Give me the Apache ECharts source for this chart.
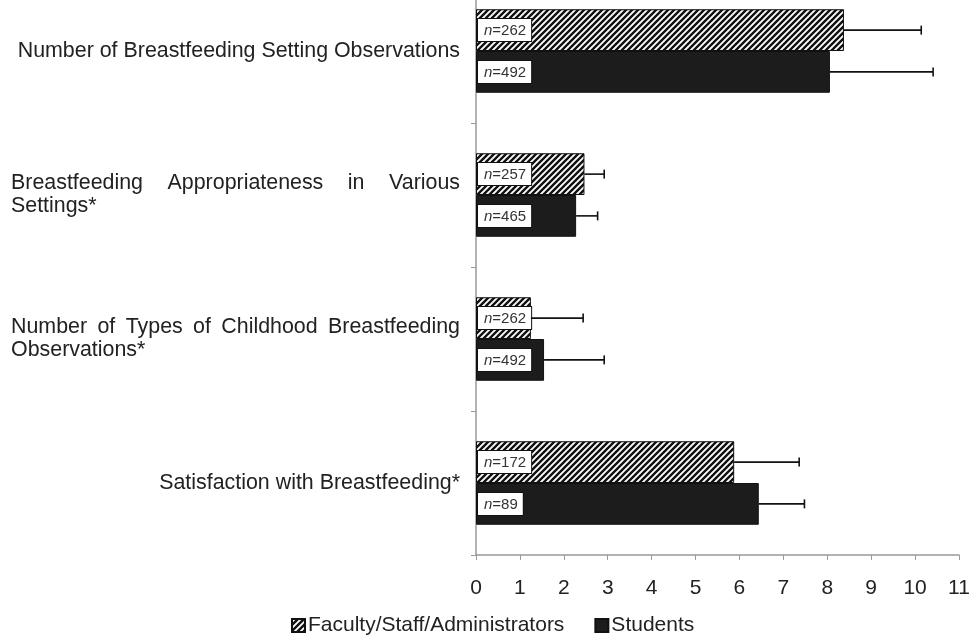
<!DOCTYPE html>
<html><head><meta charset="utf-8">
<script src="https://cdn.jsdelivr.net/npm/echarts@6/dist/echarts.min.js"></script>
<style>html,body{margin:0;padding:0;background:#fff}#c{width:970px;height:635px}</style>
</head><body><div id="c"></div>
<script>
// ---- data ----
const categories = [
  'Number of Breastfeeding Setting Observations',
  'Breastfeeding Appropriateness in Various Settings*',
  'Number of Types of Childhood Breastfeeding Observations*',
  'Satisfaction with Breastfeeding*'
];
const labelLines = [
  ['Number of Breastfeeding Setting Observations'],
  ['Breastfeeding Appropriateness in Various', 'Settings*'],
  ['Number of Types of Childhood Breastfeeding', 'Observations*'],
  ['Satisfaction with Breastfeeding*']
];
const seriesNames = ['Faculty/Staff/Administrators', 'Students'];
const facultyMean = [8.38, 2.47, 1.25, 5.88];
const facultySD   = [1.76, 0.45, 1.19, 1.48];
const studentMean = [8.06, 2.28, 1.55, 6.44];
const studentSD   = [2.35, 0.49, 1.37, 1.04];
const facultyN = [262, 257, 262, 172];
const studentN = [492, 465, 492, 89];
const xMin = 0, xMax = 11, xStep = 1;

// ---- styling helpers ----
const FONT = '"Liberation Sans", Arial, sans-serif';
const FS = 21;
const CFS = 21.4;
const justifyWidth = 449;
const mctx = document.createElement('canvas').getContext('2d');
mctx.font = CFS + 'px ' + FONT;
const rich = {};
let tid = 0;
function tok(text, width) {
  const k = 't' + (tid++);
  rich[k] = {align: 'left', fontSize: CFS, fontFamily: FONT, color: '#222', lineHeight: 23};
  if (width != null) rich[k].width = width;
  return '{' + k + '|' + text + '}';
}
const formattedLabels = labelLines.map(lines => {
  if (lines.length === 1) return lines[0];
  return lines.map((line, li) => {
    if (li === lines.length - 1) return tok(line);
    const words = line.split(' ');
    const ws = words.map(w => mctx.measureText(w).width);
    const total = ws.reduce((a, b) => a + b, 0);
    const gap = (justifyWidth - total) / (words.length - 1);
    return words.map((w, i) => tok(w, i < words.length - 1 ? ws[i] + gap : ws[i])).join('');
  }).join('\n');
});

function hatchPattern() {
  const s = 6;
  const c = document.createElement('canvas');
  c.width = s; c.height = s;
  const g = c.getContext('2d');
  g.fillStyle = '#fff'; g.fillRect(0, 0, s, s);
  g.strokeStyle = '#111'; g.lineWidth = 2.4; g.lineCap = 'square';
  g.beginPath();
  g.moveTo(-1, s + 1); g.lineTo(s + 1, -1);
  g.moveTo(-1, 1); g.lineTo(1, -1);
  g.moveTo(s - 1, s + 1); g.lineTo(s + 1, s - 1);
  g.stroke();
  return {image: c, repeat: 'repeat'};
}

const nLabel = (arr) => ({
  show: true, position: 'insideLeft', distance: 2,
  formatter: p => '{i|n}{t|=' + arr[p.dataIndex] + '}',
  backgroundColor: '#fff', borderColor: '#111', borderWidth: 1,
  padding: [4, 5, 3, 6],
  rich: {
    i: {fontStyle: 'italic', fontSize: 15, fontFamily: FONT, color: '#333'},
    t: {fontSize: 15, fontFamily: FONT, color: '#333'}
  }
});

function errData(mean, sd, off) {
  return mean.map((m, i) => [m, i, sd[i], off]);
}
const errSeries = (mean, sd, off) => ({
  type: 'custom', silent: true, z: 3,
  encode: {x: 0, y: 1},
  data: errData(mean, sd, off),
  renderItem: (params, api) => {
    const m = api.value(0), cat = api.value(1), sd = api.value(2), o = api.value(3);
    const p0 = api.coord([m, cat]);
    const p1 = api.coord([m + sd, cat]);
    const band = api.size([0, 1])[1];
    const y = p0[1] + o * band;
    const st = {stroke: '#111', lineWidth: 1.6};
    return {type: 'group', children: [
      {type: 'line', shape: {x1: p0[0], y1: y, x2: p1[0], y2: y}, style: st},
      {type: 'line', shape: {x1: p1[0], y1: y - 4.5, x2: p1[0], y2: y + 4.5}, style: st}
    ]};
  }
});

const chart = echarts.init(document.getElementById('c'));
chart.setOption({
  animation: false,
  backgroundColor: '#fff',
  grid: {left: 476, right: 11, top: -21, height: 576, containLabel: false, outerBoundsMode: 'none'},
  legend: {
    data: seriesNames, left: 286, top: 610, itemWidth: 13, itemHeight: 13, itemGap: 30,
    icon: 'rect',
    textStyle: {fontSize: FS, fontFamily: FONT, color: '#222', padding: [0, 0, 0, -2]}
  },
  xAxis: {
    type: 'value', min: xMin, max: xMax, interval: xStep,
    splitLine: {show: false},
    axisLine: {show: true, lineStyle: {color: '#999', width: 1.5}},
    axisTick: {show: true, length: 5, lineStyle: {color: '#999'}},
    axisLabel: {fontSize: FS, fontFamily: FONT, color: '#222', margin: 23}
  },
  yAxis: {
    type: 'category', data: categories, inverse: true,
    axisLine: {show: true, lineStyle: {color: '#999', width: 1.5}},
    axisTick: {show: true, length: 5, lineStyle: {color: '#999'}},
    axisLabel: {
      interval: 0, margin: 16, fontSize: CFS, fontFamily: FONT, color: '#222', lineHeight: 23,
      formatter: (v, i) => formattedLabels[i], rich: rich
    }
  },
  series: [
    {name: seriesNames[0], type: 'bar', data: facultyMean, barGap: '0%', barCategoryGap: '42%',
     itemStyle: {color: hatchPattern(), borderColor: '#111', borderWidth: 1},
     label: nLabel(facultyN), z: 2},
    {name: seriesNames[1], type: 'bar', data: studentMean, barGap: '0%', barCategoryGap: '42%',
     itemStyle: {color: '#1c1c1c', borderColor: '#111', borderWidth: 1},
     label: nLabel(studentN), z: 2},
    errSeries(facultyMean, facultySD, -0.145),
    errSeries(studentMean, studentSD, 0.145)
  ]
});
</script></body></html>
